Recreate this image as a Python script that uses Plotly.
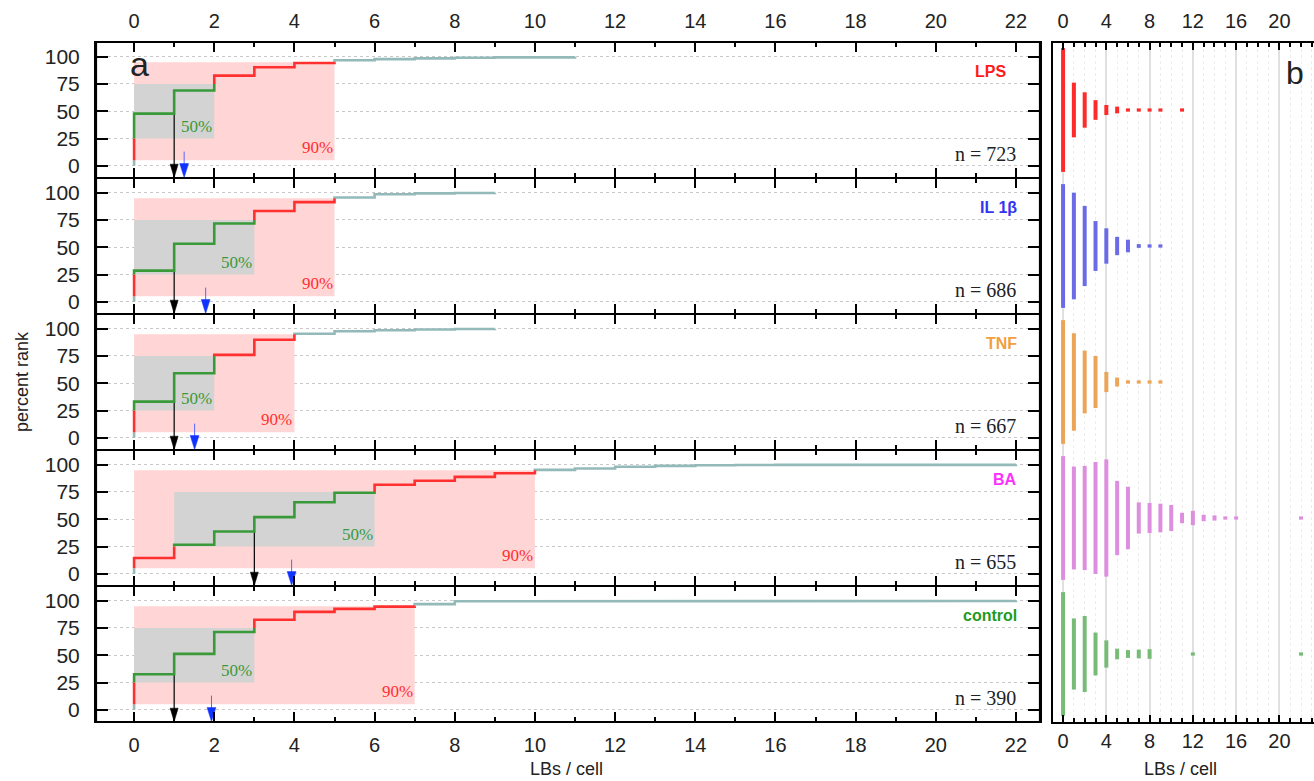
import plotly.graph_objects as go

W, H = 1314, 781

# ---------------- data ----------------
lb_values = list(range(23))                     # LBs per cell, 0..22
groups = ["LPS", "IL 1β", "TNF", "BA", "control"]
n_cells = [723, 686, 667, 655, 390]
counts_lps = [346, 153, 99, 55, 28, 19, 7, 5, 4, 3, 0, 4] + [0] * 11
counts_il1b = [196, 169, 127, 79, 56, 29, 20, 6, 2, 2] + [0] * 13
counts_tnf = [221, 174, 112, 93, 36, 16, 6, 4, 3, 2] + [0] * 13
counts_ba = [95, 79, 80, 86, 90, 57, 48, 24, 23, 22, 20, 8, 11, 5, 4, 1, 1, 0, 0, 0, 0, 0, 1]
counts_ctrl = [127, 73, 78, 44, 28, 11, 8, 9, 10, 0, 0, 0, 1, 0, 0, 0, 0, 0, 0, 0, 0, 0, 1]
all_counts = [counts_lps, counts_il1b, counts_tnf, counts_ba, counts_ctrl]

x_ticks_a = list(range(0, 23, 2))
y_ticks_a = [0, 25, 50, 75, 100]
x_ticks_b = [0, 4, 8, 12, 16, 20]

# ---------------- styles ----------------
label_colors = ["#ff1a1a", "#3434ee", "#f0a040", "#ff30ff", "#1f9a1f"]
bar_colors = ["#ff2b2b", "#6b6be8", "#eca458", "#de8ede", "#77bb77"]
GREEN, RED, TEAL = "#3a9a3a", "#ff3030", "#94b9b9"
TICKFONT = dict(family="Liberation Sans", size=20, color="#222")

fig = go.Figure()

row_px = 136
top_px = 42
A_LEFT, A_RIGHT = 96, 1040


def ydom(top, bottom):
    return [1 - bottom / H, 1 - top / H]


def band_color(y):
    if y < 5 or y > 95:
        return TEAL
    if y < 25 or y > 75:
        return RED
    return GREEN


def cumulative(counts, n):
    out, s = [], 0
    for c in counts:
        s += c
        out.append(100.0 * s / n)
    return out


def first_at(cum, p):
    for k, v in enumerate(cum):
        if v >= p - 1e-9:
            return lb_values[k]
    return lb_values[-1]


layout = dict(width=W, height=H, margin=dict(l=0, r=0, t=0, b=0),
              paper_bgcolor="white", plot_bgcolor="white", showlegend=False)
shapes, annotations = [], []

for i, (name, counts, n) in enumerate(zip(groups, all_counts, n_cells)):
    sfx = "" if i == 0 else str(i + 1)
    xr, yr = "x" + sfx, "y" + sfx
    top = top_px + row_px * i
    bottom = top + row_px
    xaxis = dict(domain=[A_LEFT / W, A_RIGHT / W], range=[-0.95, 22.6], anchor=yr,
                 tickmode="array", tickvals=x_ticks_a, ticks="inside", ticklen=10,
                 tickwidth=2, tickcolor="black", showline=True, linewidth=1.2,
                 linecolor="black", mirror="allticks", showgrid=False, zeroline=False,
                 minor=dict(dtick=1, tick0=0, ticks="inside", ticklen=5, tickwidth=1.5,
                            tickcolor="black", showgrid=False),
                 tickfont=TICKFONT, showticklabels=(i == 0 or i == 4),
                 side="top" if i == 0 else "bottom", ticklabelstandoff=5)
    yaxis = dict(domain=ydom(top, bottom), range=[-11.2, 113.5], anchor=xr,
                 tickmode="array", tickvals=y_ticks_a, ticks="inside", ticklen=12,
                 tickwidth=2, tickcolor="black", showline=True, linewidth=2,
                 linecolor="black", mirror="ticks", showgrid=True, gridcolor="#c8c8c8",
                 griddash="dot", gridwidth=1, zeroline=False,
                 tickfont=dict(family="Liberation Sans", size=21, color="#222"),
                 ticklabelstandoff=10)
    layout["xaxis" + sfx] = xaxis
    layout["yaxis" + sfx] = yaxis

    cum = cumulative(counts, n)
    kmax = max(k for k, c in enumerate(counts) if c > 0)
    x5, x25, x75, x95 = (first_at(cum, p) for p in (5, 25, 75, 95))
    med = first_at(cum, 50)
    mean = sum(k * c for k, c in zip(lb_values, counts)) / n

    # shaded ranges
    shapes.append(dict(type="rect", xref=xr, yref=yr, x0=x5, x1=x95, y0=5, y1=95,
                       fillcolor="#ffd5d5", line=dict(width=0), layer="between"))
    shapes.append(dict(type="rect", xref=xr, yref=yr, x0=x25, x1=x75, y0=25, y1=75,
                       fillcolor="#d3d3d3", line=dict(width=0), layer="between"))

    # arrows (median black, mean blue)
    fig.add_trace(go.Scatter(x=[med, med], y=[50, -4], mode="lines",
                             line=dict(color="black", width=1.2), xaxis=xr, yaxis=yr,
                             hoverinfo="skip"))
    fig.add_trace(go.Scatter(x=[med - 0.1, med + 0.1, med, med - 0.1], y=[1.5, 1.5, -10.8, 1.5],
                             mode="lines", fill="toself", fillcolor="black",
                             line=dict(color="black", width=0.5), xaxis=xr, yaxis=yr,
                             hoverinfo="skip"))
    fig.add_trace(go.Scatter(x=[mean, mean], y=[13, -4], mode="lines",
                             line=dict(color="#5566ff", width=1), xaxis=xr, yaxis=yr,
                             hoverinfo="skip"))
    fig.add_trace(go.Scatter(x=[mean - 0.11, mean + 0.11, mean, mean - 0.11], y=[2, 2, -10.8, 2],
                             mode="lines", fill="toself", fillcolor="#1133ff",
                             line=dict(color="#1133ff", width=0.5), xaxis=xr, yaxis=yr,
                             hoverinfo="skip"))

    # step line pieces, coloured by percentile band
    segs = []
    prev = 0.0
    for k in range(kmax + 1):
        segs.append(((lb_values[k], prev), (lb_values[k], cum[k])))
        if k < kmax:
            segs.append(((lb_values[k], cum[k]), (lb_values[k + 1], cum[k])))
        prev = cum[k]
    pieces = []
    for (xa, ya), (xb, yb) in segs:
        if xa == xb:
            lo, hi = min(ya, yb), max(ya, yb)
            cuts = [lo] + [b for b in (5, 25, 75, 95) if lo < b < hi] + [hi]
            for a, b in zip(cuts[:-1], cuts[1:]):
                if b > a:
                    pieces.append(((xa, a), (xa, b), band_color((a + b) / 2)))
        else:
            pieces.append(((xa, ya), (xb, yb), band_color(ya)))
    runs = {TEAL: ([], []), RED: ([], []), GREEN: ([], [])}
    last_col, last_end = None, None
    for p0, p1, col in pieces:
        xs, ys = runs[col]
        if col == last_col and last_end == p0:
            xs.append(p1[0]); ys.append(p1[1])
        else:
            if xs:
                xs.append(None); ys.append(None)
            xs.extend([p0[0], p1[0]]); ys.extend([p0[1], p1[1]])
        last_col, last_end = col, p1
    for col in (TEAL, RED, GREEN):
        xs, ys = runs[col]
        fig.add_trace(go.Scatter(x=xs, y=ys, mode="lines", line=dict(color=col, width=2.6),
                                 xaxis=xr, yaxis=yr, hoverinfo="skip"))

    # texts
    annotations.append(dict(x=x75, y=25, xref=xr, yref=yr, text="50%", showarrow=False,
                            xanchor="right", yanchor="bottom", yshift=1,
                            font=dict(family="Liberation Serif", size=17, color=GREEN)))
    annotations.append(dict(x=x95, y=5, xref=xr, yref=yr, text="90%", showarrow=False,
                            xanchor="right", yanchor="bottom", yshift=1,
                            font=dict(family="Liberation Serif", size=17, color=RED)))
    annotations.append(dict(x=0.977, y=0.175, xref=xr + " domain", yref=yr + " domain",
                            text=f"n = {n}", showarrow=False, xanchor="right", yanchor="middle",
                            font=dict(family="Liberation Serif", size=20, color="#222")))
    annotations.append(dict(x=0.966 if i == 0 else 0.978, y=0.785, xref=xr + " domain",
                            yref=yr + " domain", text=f"<b>{name}</b>", showarrow=False,
                            xanchor="right", yanchor="middle",
                            font=dict(family="Liberation Sans", size=16, color=label_colors[i])))

annotations.append(dict(x=0.034, y=0.84, xref="x domain", yref="y domain", text="a",
                        showarrow=False, xanchor="left", yanchor="middle",
                        font=dict(family="Liberation Sans", size=34, color="#222")))

# outer frame of panel a
shapes.append(dict(type="rect", xref="paper", yref="paper", x0=A_LEFT / W, x1=A_RIGHT / W,
                   y0=1 - (top_px + 5 * row_px) / H, y1=1 - top_px / H,
                   line=dict(color="black", width=2.2), fillcolor="rgba(0,0,0,0)", layer="above"))

# ---------------- panel b ----------------
layout["xaxis6"] = dict(domain=[1053 / W, 1.0], range=[-0.93, 23.2], anchor="y6", side="top",
                        tickmode="array", tickvals=x_ticks_b, ticks="inside", ticklen=7,
                        tickwidth=2, tickcolor="black", showline=True, linewidth=2,
                        linecolor="black", mirror="allticks", showgrid=True,
                        gridcolor="#e0e0e0", gridwidth=1.5, zeroline=False,
                        minor=dict(dtick=1, tick0=0, ticks="inside", ticklen=4, tickwidth=1.5,
                                   tickcolor="black", showgrid=True, gridcolor="#ececec",
                                   griddash="dot", gridwidth=1),
                        tickfont=TICKFONT, ticklabelstandoff=5)
layout["xaxis7"] = dict(overlaying="x6", range=[-0.93, 23.2], anchor="y6", side="bottom",
                        tickmode="array", tickvals=x_ticks_b, ticks="", showline=False,
                        showgrid=False, zeroline=False, tickfont=TICKFONT,
                        ticklabelstandoff=5)
layout["yaxis6"] = dict(domain=ydom(43, 722), range=[-0.5, 4.4926], anchor="x6",
                        showline=True, linewidth=2, linecolor="black", showticklabels=False,
                        ticks="", showgrid=False, zeroline=False)

for i, counts in enumerate(all_counts):
    center = len(groups) - 1 - i
    cmax = max(counts)
    xs, ys = [], []
    for k, c in zip(lb_values, counts):
        if c > 0:
            h = max(0.455 * c / cmax, 0.012)
            xs += [k, k, None]
            ys += [center - h, center + h, None]
    fig.add_trace(go.Scatter(x=xs, y=ys, mode="lines", line=dict(color=bar_colors[i], width=4),
                             xaxis="x6", yaxis="y6", hoverinfo="skip"))
fig.add_trace(go.Scatter(x=[0], y=[0], mode="markers", marker=dict(opacity=0),
                         xaxis="x7", yaxis="y6", hoverinfo="skip"))

annotations.append(dict(x=0.885, y=0.956, xref="x6 domain", yref="y6 domain", text="b",
                        showarrow=False, xanchor="left", yanchor="middle",
                        font=dict(family="Liberation Sans", size=32, color="#222")))

# ---------------- axis titles ----------------
annotations.append(dict(x=22 / W, y=1 - 382 / H, xref="paper", yref="paper", text="percent rank",
                        textangle=-90, showarrow=False, xanchor="center", yanchor="middle",
                        font=dict(family="Liberation Sans", size=18, color="#222")))
annotations.append(dict(x=566 / W, y=1 - 769 / H, xref="paper", yref="paper", text="LBs / cell",
                        showarrow=False, xanchor="center", yanchor="middle",
                        font=dict(family="Liberation Sans", size=18, color="#222")))
annotations.append(dict(x=1180 / W, y=1 - 769 / H, xref="paper", yref="paper", text="LBs / cell",
                        showarrow=False, xanchor="center", yanchor="middle",
                        font=dict(family="Liberation Sans", size=18, color="#222")))

layout["shapes"] = shapes
layout["annotations"] = annotations
fig.update_layout(**layout)
fig.write_html("out.html", config={"displayModeBar": False},
               post_script="document.body.style.margin='0';document.body.style.overflow='hidden';")
